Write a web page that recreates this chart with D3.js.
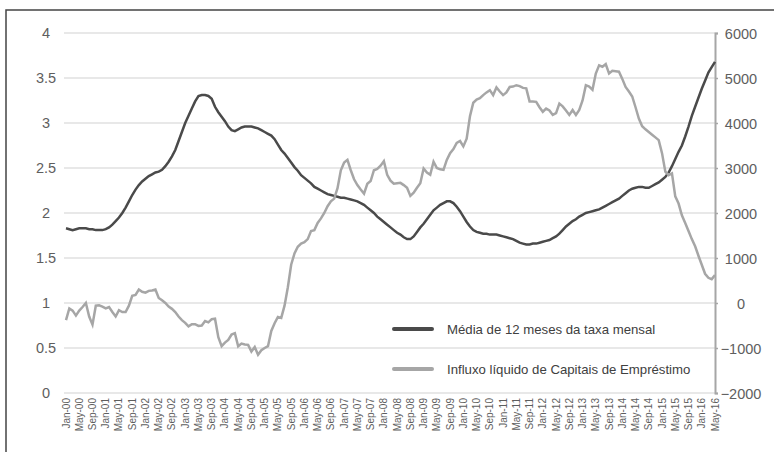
<!DOCTYPE html>
<html lang="pt">
<head>
    <meta charset="UTF-8">
    <title>taxa mensal / influxo</title>
    <script src="https://cdn.jsdelivr.net/npm/d3@7/dist/d3.min.js"></script>
    <style>
        body { margin: 0; background: #fff; }
        svg { display: block; font-family: "Liberation Sans", Arial, sans-serif; }
        svg .frame { fill: none; stroke: #444; stroke-width: 1.5px; }
        svg .grid line { stroke: #e8e8e8; stroke-width: 2px; }
        svg .tick-label { fill: #5e5e5e; font-size: 14.5px; text-anchor: middle; }
        svg .month-label { fill: #5e5e5e; font-size: 10px; }
        svg .taxa-line { fill: none; stroke: #4a4a4a; stroke-width: 2.5px; }
        svg .influxo-line { fill: none; stroke: #a6a6a6; stroke-width: 2.5px; }
        svg .legend text { fill: #404040; font-size: 13.2px; }
    </style>
</head>
<body>
    <svg width="774" height="452"></svg>
    <script>
    var monthNames = ['Jan','Feb','Mar','Apr','May','Jun','Jul','Aug','Sep','Oct','Nov','Dec'];
    var firstYear = 2000, lastYear = 2016, lastMonth = 4;   // up to May-16

    var months = [];
    for (var yr = firstYear; yr <= lastYear; yr++) {
        for (var m = 0; m < 12; m++) {
            if (yr === lastYear && m > lastMonth) break;
            months.push(monthNames[m] + '-' + String(yr).slice(2));
        }
    }

    // Média de 12 meses da taxa mensal (eixo esquerdo)
    var taxa = [
        1.83,1.82,1.81,1.82,1.83,1.83,1.83,1.82,1.82,1.81,1.81,1.81,
        1.82,1.84,1.87,1.91,1.95,2.00,2.06,2.13,2.20,2.26,2.31,2.35,
        2.38,2.41,2.43,2.45,2.46,2.48,2.52,2.57,2.63,2.70,2.80,2.90,
        3.00,3.08,3.16,3.24,3.30,3.31,3.31,3.30,3.27,3.18,3.12,3.07,
        3.02,2.96,2.92,2.91,2.93,2.95,2.96,2.96,2.96,2.95,2.94,2.92,
        2.90,2.88,2.86,2.82,2.76,2.70,2.66,2.61,2.56,2.51,2.47,2.42,
        2.39,2.36,2.33,2.29,2.27,2.25,2.23,2.21,2.20,2.19,2.18,2.17,
        2.17,2.16,2.15,2.14,2.13,2.11,2.09,2.06,2.03,2.00,1.96,1.93,
        1.90,1.87,1.84,1.81,1.78,1.76,1.73,1.71,1.71,1.74,1.79,1.84,
        1.88,1.93,1.98,2.03,2.06,2.09,2.11,2.13,2.13,2.11,2.07,2.02,
        1.96,1.90,1.85,1.81,1.79,1.78,1.77,1.77,1.76,1.76,1.76,1.75,
        1.74,1.73,1.72,1.71,1.69,1.67,1.66,1.65,1.65,1.66,1.66,1.67,
        1.68,1.69,1.70,1.72,1.74,1.77,1.81,1.85,1.88,1.91,1.93,1.96,
        1.98,2.00,2.01,2.02,2.03,2.04,2.06,2.08,2.10,2.12,2.14,2.16,
        2.19,2.22,2.25,2.27,2.28,2.29,2.29,2.28,2.28,2.30,2.32,2.34,
        2.37,2.40,2.45,2.52,2.60,2.68,2.75,2.85,2.96,3.08,3.18,3.28,
        3.38,3.47,3.56,3.62,3.68
    ];

    // Influxo líquido de Capitais de Empréstimo (eixo direito)
    var influxo = [
        -380,-120,-170,-280,-170,-90,0,-300,-480,-60,-50,-80,
        -120,-90,-200,-300,-160,-200,-200,-60,160,180,300,250,
        230,270,280,300,110,60,0,-80,-130,-200,-300,-380,
        -440,-520,-470,-470,-510,-500,-400,-430,-360,-350,-760,-960,
        -880,-820,-700,-670,-960,-900,-920,-930,-1080,-980,-1150,-1050,
        -1000,-960,-620,-450,-310,-330,-60,350,850,1100,1250,1320,
        1350,1420,1600,1620,1780,1880,2000,2150,2260,2320,2550,2950,
        3120,3180,2950,2750,2620,2520,2430,2650,2710,2950,2980,3050,
        3150,2850,2720,2650,2660,2670,2620,2560,2380,2450,2560,2660,
        2990,2900,2850,3140,3000,2970,2960,3180,3330,3420,3560,3600,
        3480,3650,4150,4450,4520,4550,4620,4680,4730,4620,4790,4700,
        4620,4680,4800,4810,4840,4820,4780,4770,4480,4480,4470,4350,
        4250,4320,4280,4180,4220,4430,4370,4280,4180,4290,4180,4290,
        4500,4840,4810,4740,5100,5280,5250,5310,5100,5160,5150,5140,
        4980,4800,4700,4590,4350,4100,3930,3860,3800,3740,3680,3620,
        3330,2920,2840,2880,2370,2210,1950,1780,1600,1420,1260,1050,
        850,650,560,530,620
    ];

    var leftTicks = [0, 0.5, 1, 1.5, 2, 2.5, 3, 3.5, 4];
    var rightTicks = [-2000, -1000, 0, 1000, 2000, 3000, 4000, 5000, 6000];
    var legendLabels = ['Média de 12 meses da taxa mensal', 'Influxo líquido de Capitais de Empréstimo'];

    var svg = d3.select('svg'),
        plotLeft = 64, plotRight = 715, plotTop = 33, plotBottom = 393;

    var x = d3.scalePoint().domain(months).range([66, plotRight]),
        yL = d3.scaleLinear().domain([0, 4]).range([plotBottom, plotTop]),
        yR = d3.scaleLinear().domain([-2000, 6000]).range([plotBottom, plotTop]);

    svg.append('rect')
        .classed('frame', true)
        .attr('x', 6).attr('y', 10)
        .attr('width', 820).attr('height', 500);

    // grid
    svg.append('g').classed('grid', true)
        .selectAll('line').data(leftTicks).enter()
        .append('line')
        .attr('x1', plotLeft).attr('x2', plotRight)
        .attr('y1', function(d) { return yL(d); })
        .attr('y2', function(d) { return yL(d); });

    // left labels (centered)
    svg.append('g').selectAll('text').data(leftTicks).enter()
        .append('text')
        .classed('tick-label', true)
        .attr('x', 46)
        .attr('y', function(d) { return yL(d) + 5; })
        .text(function(d) { return d; });

    // right axis
    var rAxis = svg.append('g')
        .attr('transform', 'translate(' + plotRight + ',0)')
        .call(d3.axisRight(yR).tickValues(rightTicks).tickSize(3).tickFormat(d3.format('d')));
    rAxis.select('.domain').attr('stroke', '#a6a6a6').attr('stroke-width', 2);
    rAxis.selectAll('.tick line').attr('stroke', '#a6a6a6').attr('stroke-width', 1.5);
    rAxis.selectAll('.tick text')
        .attr('class', 'tick-label')
        .attr('x', 26).attr('dy', '0.35em');
    rAxis.attr('font-size', null).attr('font-family', null);

    // month labels, every 4 months
    svg.append('g').selectAll('text')
        .data(months.filter(function(d, i) { return i % 4 === 0; }))
        .enter().append('text')
        .classed('month-label', true)
        .attr('text-anchor', 'end')
        .attr('transform', function(d) { return 'translate(' + (x(d) + 3.5) + ',398) rotate(-90)'; })
        .text(function(d) { return d; });

    var taxaLine = d3.line()
        .x(function(d, i) { return x(months[i]); })
        .y(function(d) { return yL(d); });
    var influxoLine = d3.line()
        .x(function(d, i) { return x(months[i]); })
        .y(function(d) { return yR(d); });

    svg.append('path').classed('taxa-line', true).attr('d', taxaLine(taxa));
    svg.append('path').classed('influxo-line', true).attr('d', influxoLine(influxo));

    // legend
    var legend = svg.append('g').classed('legend', true);
    var legendColors = ['#4a4a4a', '#a6a6a6'];
    legendLabels.forEach(function(label, i) {
        var ly = 329 + i * 40;
        legend.append('line')
            .attr('x1', 394).attr('x2', 432)
            .attr('y1', ly).attr('y2', ly)
            .attr('stroke', legendColors[i])
            .attr('stroke-width', 4)
            .attr('stroke-linecap', 'round');
        legend.append('text')
            .attr('x', 447).attr('y', ly + 5)
            .text(label);
    });
    </script>
</body>
</html>
